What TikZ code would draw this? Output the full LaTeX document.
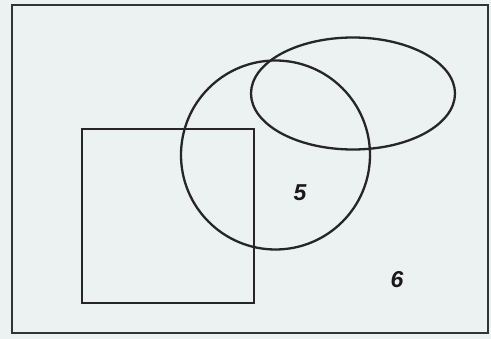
\documentclass[tikz,border=0pt]{standalone}
\usepackage{fontspec}
\setmainfont{Liberation Sans}
\begin{document}
\begin{tikzpicture}[x=1pt,y=-1pt,
  shapeline/.style={draw=black!85, line width=2.3pt},
  numlabel/.style={font=\fontsize{23}{23}\selectfont\bfseries\itshape, text=black!90, inner sep=0pt}]
\useasboundingbox (0,0) rectangle (491,339);
\fill[fill={rgb,255:red,236;green,241;blue,241}] (0,0) rectangle (491,339);
\draw[draw=black!80, line width=2.3pt] (12,5) rectangle (488,333);
\node[shapeline, minimum width=172pt, minimum height=174pt, anchor=north west, inner sep=0pt] (sq) at (81,128) {};
\node[shapeline, circle, minimum size=189pt, inner sep=0pt] (circ) at (275.5,155) {};
\draw[shapeline] (353,93.5) ellipse [x radius=102, y radius=56];
\coordinate (ell) at (353,93.5);
\node[numlabel] (five) at (300,193) {5};
\node[numlabel] (six) at (397,280) {6};
\end{tikzpicture}
\end{document}
